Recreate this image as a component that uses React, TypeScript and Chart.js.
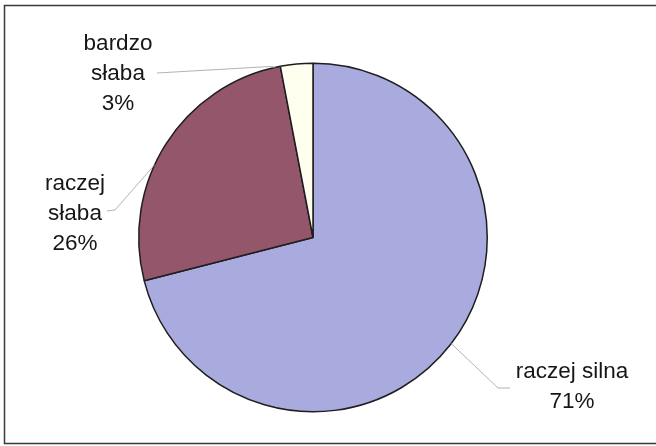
import React, { useEffect, useRef } from "react";
import { Chart, registerables } from "chart.js";

Chart.register(...registerables);

const categories = ["raczej silna", "raczej słaba", "bardzo słaba"];
const values = [71, 26, 3];
const percentLabels = ["71%", "26%", "3%"];
const colors = ["#A9ABDE", "#93566B", "#FFFFF0"];

const labelPlugin = {
  id: "excelLabels",
  beforeDraw(chart: any) {
    const ctx = chart.ctx;
    ctx.save();
    ctx.fillStyle = "#ffffff";
    ctx.fillRect(0, 0, chart.width, chart.height);
    ctx.strokeStyle = "#3a3a3a";
    ctx.lineWidth = 1.5;
    ctx.beginPath();
    ctx.moveTo(656, 5.5);
    ctx.lineTo(4.5, 5.5);
    ctx.lineTo(4.5, 443.5);
    ctx.lineTo(656, 443.5);
    ctx.stroke();
    ctx.restore();
  },
  afterDraw(chart: any) {
    const ctx = chart.ctx;
    const meta = chart.getDatasetMeta(0);
    const arc0 = meta.data[0];
    const cx = arc0.x;
    const cy = arc0.y;
    const r = arc0.outerRadius;
    // anchor angle (degrees clockwise from top), label centre x, first baseline y, knee point
    const specs = [
      { ang: 127.5, lx: 572, by: 378, knee: [498, 388], end: [510, 388] },
      { ang: -65.3, lx: 75, by: 190, knee: [115, 210], end: [107, 211] },
      { ang: -12.5, lx: 118, by: 50, knee: [270, 66.5], end: [157, 73] },
    ];
    ctx.save();
    ctx.strokeStyle = "#a0a0a0";
    ctx.lineWidth = 0.8;
    specs.forEach((s) => {
      const a = (s.ang * Math.PI) / 180;
      const ax = cx + Math.sin(a) * r;
      const ay = cy - Math.cos(a) * r;
      ctx.beginPath();
      ctx.moveTo(ax, ay);
      ctx.lineTo(s.knee[0], s.knee[1]);
      ctx.lineTo(s.end[0], s.end[1]);
      ctx.stroke();
    });
    ctx.fillStyle = "#161616";
    ctx.font = "22.5px 'Liberation Sans', Arial, sans-serif";
    ctx.textAlign = "center";
    ctx.textBaseline = "alphabetic";
    specs.forEach((s, i) => {
      const name = categories[i];
      let lines: string[];
      if (i === 0) lines = [name, percentLabels[i]];
      else lines = [...name.split(" "), percentLabels[i]];
      lines.forEach((t, k) => ctx.fillText(t, s.lx, s.by + k * 30));
    });
    ctx.restore();
  },
};

export default function App() {
  const ref = useRef<HTMLCanvasElement | null>(null);
  useEffect(() => {
    document.body.style.margin = "0";
    const chart = new Chart(ref.current as HTMLCanvasElement, {
      type: "pie",
      data: {
        labels: categories,
        datasets: [
          {
            data: values,
            backgroundColor: colors,
            borderColor: "#1e1e1e",
            borderWidth: 1.5,
          },
        ],
      },
      options: {
        animation: false,
        responsive: false,
        maintainAspectRatio: false,
        layout: { padding: { left: 138, right: 168, top: 62.5, bottom: 33.5 } },
        plugins: { legend: { display: false }, tooltip: { enabled: false } },
      },
      plugins: [labelPlugin],
    });
    return () => chart.destroy();
  }, []);
  return (
    <div style={{ width: 656, height: 446 }}>
      <canvas ref={ref} width={656} height={446} style={{ display: "block" }} />
    </div>
  );
}
